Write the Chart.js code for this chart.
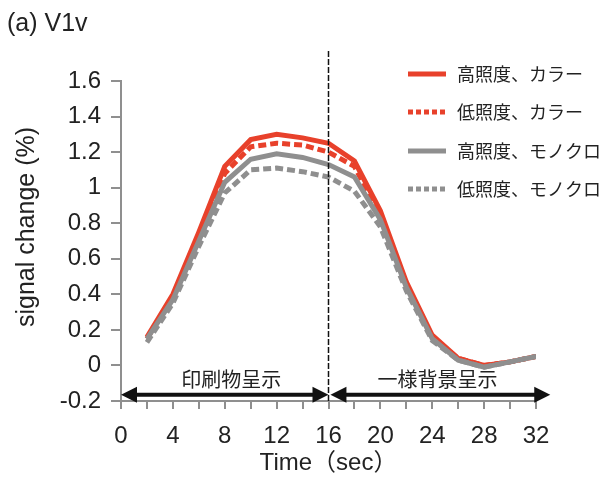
<!DOCTYPE html>
<html>
<head>
<meta charset="utf-8">
<script src="https://cdn.jsdelivr.net/npm/chart.js@4.4.0/dist/chart.umd.min.js"></script>
<style>
html,body{margin:0;padding:0;background:#fff;}
#wrap{width:602px;height:491px;position:relative;}
</style>
</head>
<body>
<div id="wrap"><canvas id="c" width="602" height="491"></canvas></div>
<script>
const times = [2,4,6,8,10,12,14,16,18,20,22,24,26,28,30,32];
const highColor = [0.16,0.40,0.75,1.12,1.27,1.30,1.28,1.25,1.15,0.87,0.47,0.17,0.04,0.00,0.02,0.05];
const lowColor  = [0.15,0.39,0.72,1.08,1.23,1.25,1.24,1.20,1.12,0.84,0.46,0.16,0.04,0.00,0.02,0.05];
const highMono  = [0.15,0.37,0.70,1.03,1.16,1.19,1.17,1.13,1.06,0.82,0.44,0.15,0.03,-0.01,0.02,0.05];
const lowMono   = [0.13,0.35,0.67,0.97,1.10,1.11,1.09,1.06,0.98,0.78,0.42,0.14,0.03,-0.01,0.02,0.05];
const seriesNames = ['高照度、カラー','低照度、カラー','高照度、モノクロ','低照度、モノクロ'];
const yTicks = [-0.2,0,0.2,0.4,0.6,0.8,1,1.2,1.4,1.6];
const xTickLabels = [0,4,8,12,16,20,24,28,32];
const phases = [
  {label:'印刷物呈示', from:0, to:16, textAt:8.5},
  {label:'一様背景呈示', from:16.15, to:33.1, textAt:24.4}
];
const stimulusEnd = 16;
const arrowLevel = -0.165;

const RED = '#e8412b';
const GRAY = '#8f8f8f';
const LATIN = '"Liberation Sans", Arial, sans-serif';
const CJK = '"Noto Sans CJK JP", sans-serif';

function pts(arr){ return times.map((t,i)=>({x:t, y:arr[i]})); }

const overlay = {
  id:'overlay',
  afterDatasetsDraw(chart){
    const ctx = chart.ctx;
    const xs = chart.scales.x, ys = chart.scales.y;
    ctx.save();
    // stimulus end dashed line
    const vx = xs.getPixelForValue(stimulusEnd);
    ctx.strokeStyle = '#111';
    ctx.lineWidth = 1.5;
    ctx.setLineDash([6,2]);
    ctx.beginPath();
    ctx.moveTo(vx, 51);
    ctx.lineTo(vx, ys.getPixelForValue(-0.2));
    ctx.stroke();
    ctx.setLineDash([]);
    // arrows
    const ay = ys.getPixelForValue(arrowLevel);
    phases.forEach(p=>{
      const x1 = xs.getPixelForValue(p.from), x2 = xs.getPixelForValue(p.to);
      const hl = 16, hh = 8;
      ctx.strokeStyle = '#111';
      ctx.fillStyle = '#111';
      ctx.lineWidth = 4;
      ctx.beginPath();
      ctx.moveTo(x1+hl-2, ay); ctx.lineTo(x2-hl+2, ay); ctx.stroke();
      ctx.beginPath();
      ctx.moveTo(x1, ay); ctx.lineTo(x1+hl, ay-hh); ctx.lineTo(x1+hl, ay+hh); ctx.closePath(); ctx.fill();
      ctx.beginPath();
      ctx.moveTo(x2, ay); ctx.lineTo(x2-hl, ay-hh); ctx.lineTo(x2-hl, ay+hh); ctx.closePath(); ctx.fill();
      ctx.font = '20px ' + CJK;
      ctx.textAlign = 'center';
      ctx.textBaseline = 'middle';
      ctx.fillStyle = '#222';
      ctx.fillText(p.label, xs.getPixelForValue(p.textAt), ay-15);
    });
    // legend (in series order)
    const rows = [74, 112, 151, 189];
    const byName = {};
    chart.data.datasets.forEach(ds=>{ byName[ds.label] = ds; });
    seriesNames.forEach((name,i)=>{
      const ds = byName[name];
      const y = rows[i];
      ctx.strokeStyle = ds.borderColor;
      ctx.lineWidth = 5;
      ctx.setLineDash(ds.borderDash && ds.borderDash.length ? [5,3] : []);
      ctx.beginPath();
      ctx.moveTo(408, y); ctx.lineTo(446, y); ctx.stroke();
      ctx.setLineDash([]);
      ctx.fillStyle = '#222';
      ctx.font = '18px ' + CJK;
      ctx.textAlign = 'left';
      ctx.textBaseline = 'middle';
      ctx.fillText(name, 457, y);
    });
    // panel title
    ctx.font = '25px ' + LATIN;
    ctx.fillStyle = '#222';
    ctx.textAlign = 'left';
    ctx.textBaseline = 'middle';
    ctx.fillText('(a) V1v', 7, 24);
    // y axis title
    ctx.save();
    ctx.translate(27, 227);
    ctx.rotate(-Math.PI/2);
    ctx.font = '25px ' + LATIN;
    ctx.textAlign = 'center';
    ctx.textBaseline = 'middle';
    ctx.fillText('signal change (%)', 0, 0);
    ctx.restore();
    ctx.restore();
  }
};

new Chart(document.getElementById('c'), {
  type:'line',
  data:{
    datasets:[
      {label:seriesNames[3], data:pts(lowMono), borderColor:GRAY, borderWidth:5, borderDash:[8,4], pointRadius:0, tension:0},
      {label:seriesNames[2], data:pts(highMono), borderColor:GRAY, borderWidth:5, borderDash:[], pointRadius:0, tension:0},
      {label:seriesNames[1], data:pts(lowColor), borderColor:RED, borderWidth:5, borderDash:[8,4], pointRadius:0, tension:0},
      {label:seriesNames[0], data:pts(highColor), borderColor:RED, borderWidth:5, borderDash:[], pointRadius:0, tension:0}
    ]
  },
  options:{
    responsive:false,
    animation:false,
    layout:{padding:{left:0, top:81, right:66, bottom:0}},
    plugins:{legend:{display:false}, tooltip:{enabled:false}, title:{display:false}},
    scales:{
      x:{
        type:'linear', min:0, max:32,
        afterBuildTicks(s){ s.ticks = Array.from({length:17},(_,i)=>({value:i*2})); },
        ticks:{
          autoSkip:false, maxRotation:0, padding:13, color:'#222',
          font:{family:'"Liberation Sans", Arial, sans-serif', size:24},
          callback(v){ return xTickLabels.includes(v) ? String(v) : ''; }
        },
        grid:{drawOnChartArea:false, drawTicks:true, tickLength:8, color:GRAY, lineWidth:2},
        border:{display:true, color:GRAY, width:2},
        title:{display:true, text:'Time（sec）', color:'#222', font:{family:'"Liberation Sans", "Noto Sans CJK JP", sans-serif', size:24}, padding:{top:0,bottom:13}},
        afterFit(s){ s.height = 90; }
      },
      y:{
        type:'linear', min:-0.2, max:1.6,
        afterBuildTicks(s){ s.ticks = yTicks.map(v=>({value:v})); },
        ticks:{
          autoSkip:false, padding:10, color:'#222',
          font:{family:'"Liberation Sans", Arial, sans-serif', size:24},
          callback(v){ return String(Math.round(v*10)/10); }
        },
        grid:{drawOnChartArea:false, drawTicks:true, tickLength:10, color:GRAY, lineWidth:2},
        border:{display:true, color:GRAY, width:2},
        title:{display:false},
        afterFit(s){ s.width = 121; }
      }
    }
  },
  plugins:[overlay]
});
</script>
</body>
</html>
